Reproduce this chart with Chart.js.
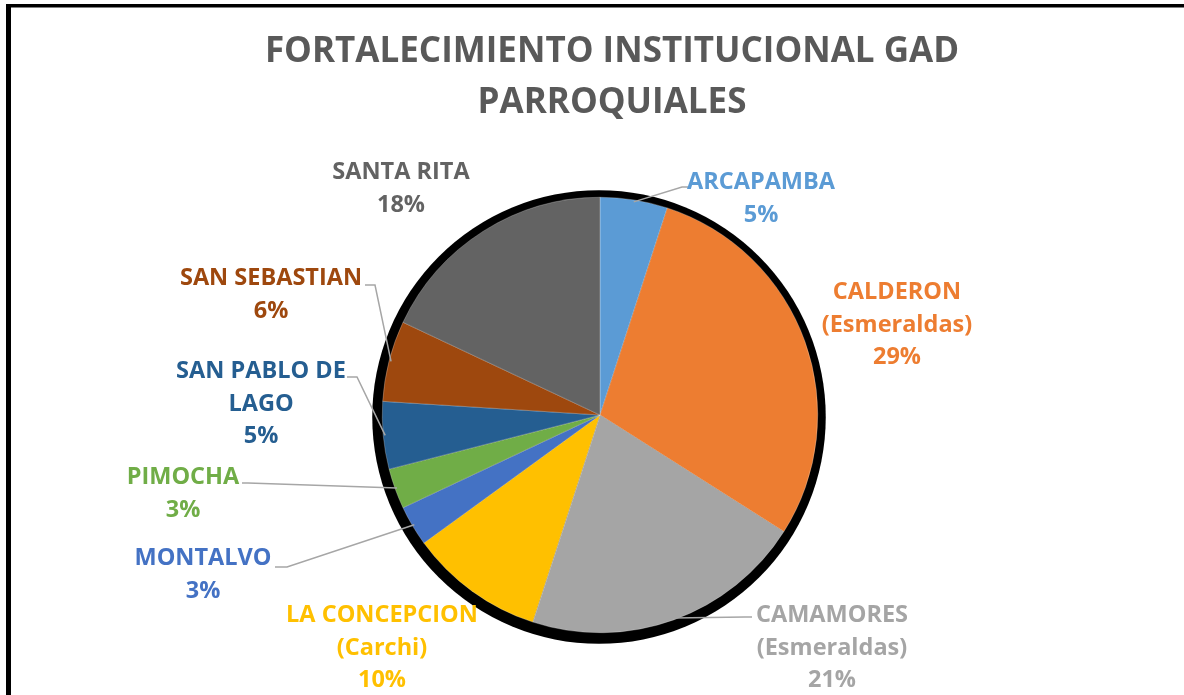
<!DOCTYPE html>
<html>
<head>
<meta charset="utf-8">
<script src="https://cdn.jsdelivr.net/npm/chart.js@4/dist/chart.umd.min.js"></script>
<style>
  html, body { margin: 0; padding: 0; background: #fff; }
  #pie { display: block; }
</style>
</head>
<body>
<canvas id="pie" width="1184" height="695"></canvas>
<script>
// Datos del gráfico
const titleLines = ['FORTALECIMIENTO INSTITUCIONAL GAD', 'PARROQUIALES'];
const categories = [
    ['ARCAPAMBA'],
    ['CALDERON', '(Esmeraldas)'],
    ['CAMAMORES', '(Esmeraldas)'],
    ['LA CONCEPCION', '(Carchi)'],
    ['MONTALVO'],
    ['PIMOCHA'],
    ['SAN PABLO DE', 'LAGO'],
    ['SAN SEBASTIAN'],
    ['SANTA RITA']
];
const shares = [5, 29, 21, 10, 3, 3, 5, 6, 18];
const colors = ['#5B9BD5', '#ED7D31', '#A5A5A5', '#FFC000', '#4472C4', '#70AD47', '#255E91', '#9E480E', '#636363'];

// Posición de etiquetas (centro del texto) y quiebre de la línea guía
const labelSpots = [
    { x: 761, y: 181, leader: [682, 187, 688] },
    { x: 897, y: 291 },
    { x: 832, y: 614, leader: [745, 617, 752] },
    { x: 382, y: 614 },
    { x: 203, y: 557, leader: [287, 567, 275] },
    { x: 183, y: 476, leader: [248, 483, 242] },
    { x: 261, y: 370, leader: [357, 377, 347] },
    { x: 271, y: 277, leader: [375, 285, 365] },
    { x: 401, y: 171 }
];

const labelFont = 'bold 23.5px "Open Sans"';
const lineStep = 32.5;

const decorPlugin = {
    id: 'decor',
    beforeDraw(chart) {
        const ctx = chart.ctx;
        ctx.save();
        // marco
        ctx.fillStyle = '#000';
        ctx.fillRect(6, 4, 5, chart.height - 4);
        ctx.fillRect(6, 4, chart.width - 6, 3.5);
        // título
        ctx.fillStyle = '#595959';
        ctx.font = 'bold 35px "Open Sans"';
        ctx.textAlign = 'center';
        ctx.textBaseline = 'middle';
        ctx.fillText(titleLines[0], 612, 52);
        ctx.fillText(titleLines[1], 612, 103);
        ctx.restore();
    },
    beforeDatasetsDraw(chart) {
        // sombra negra alrededor del pastel
        const arc = chart.getDatasetMeta(0).data[0];
        if (!arc) return;
        const ctx = chart.ctx;
        ctx.save();
        ctx.fillStyle = '#000';
        ctx.beginPath();
        ctx.arc(arc.x - 1, arc.y + 2, arc.outerRadius + 9, 0, Math.PI * 2);
        ctx.fill();
        ctx.restore();
    },
    afterDatasetsDraw(chart) {
        const ctx = chart.ctx;
        const meta = chart.getDatasetMeta(0);
        const total = shares.reduce((a, b) => a + b, 0);
        ctx.save();
        meta.data.forEach((arc, i) => {
            const spot = labelSpots[i];
            // línea guía
            if (spot.leader) {
                const mid = (arc.startAngle + arc.endAngle) / 2;
                const r = arc.outerRadius - 2;
                const sx = arc.x + Math.cos(mid) * r;
                const sy = arc.y + Math.sin(mid) * r;
                ctx.strokeStyle = '#A6A6A6';
                ctx.lineWidth = 1.5;
                ctx.beginPath();
                ctx.moveTo(sx, sy);
                ctx.lineTo(spot.leader[0], spot.leader[1]);
                ctx.lineTo(spot.leader[2], spot.leader[1]);
                ctx.stroke();
            }
            // texto
            const lines = categories[i].concat([Math.round(shares[i] / total * 100) + '%']);
            ctx.fillStyle = colors[i];
            ctx.font = labelFont;
            ctx.textAlign = 'center';
            ctx.textBaseline = 'alphabetic';
            lines.forEach((t, k) => {
                ctx.fillText(t, spot.x, spot.y + k * lineStep + 8.4);
            });
        });
        ctx.restore();
    }
};

new Chart(document.getElementById('pie').getContext('2d'), {
    type: 'pie',
    data: {
        labels: categories,
        datasets: [{
            data: shares,
            backgroundColor: colors,
            borderColor: 'rgba(255,255,255,0.5)',
            borderWidth: 0.5
        }]
    },
    options: {
        responsive: false,
        animation: false,
        layout: {
            padding: { left: 382, right: 366, top: 197, bottom: 62 }
        },
        plugins: {
            legend: { display: false },
            title: { display: false },
            tooltip: { enabled: false }
        }
    },
    plugins: [decorPlugin]
});
</script>
</body>
</html>
